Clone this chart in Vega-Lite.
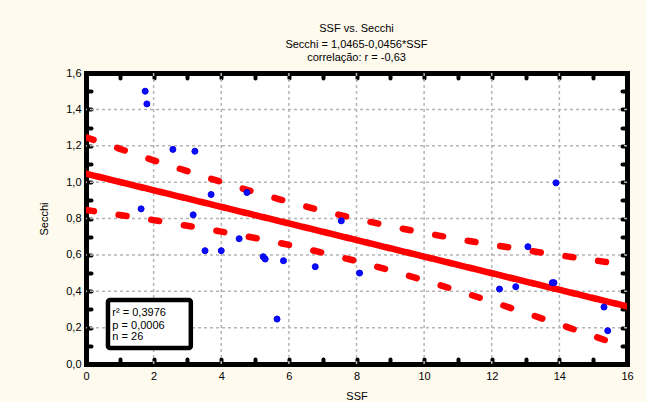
{
  "$schema": "https://vega.github.io/schema/vega-lite/v6.json",
  "width": 541,
  "height": 291,
  "autosize": {"type": "none"},
  "padding": {"left": 86, "top": 73, "right": 19, "bottom": 38},
  "background": "#fefaee",
  "config": {
    "font": "Liberation Sans",
    "view": {"stroke": null, "fill": "white"},
    "axis": {
      "domainColor": "black", "domainWidth": 5, "domainCap": "square",
      "tickColor": "black", "tickWidth": 4, "tickSize": -5, "tickCap": "round",
      "labelFontSize": 11, "labelColor": "black", "labelFlush": false, "labelOverlap": false, "labelBound": false,
      "titleFontSize": 11, "titleFontWeight": "normal", "titleColor": "black",
      "grid": false, "zindex": 1
    }
  },
  "title": {
    "text": "SSF vs. Secchi",
    "subtitle": ["Secchi = 1,0465-0,0456*SSF", "correlação: r = -0,63"],
    "fontSize": 11, "fontWeight": "normal", "color": "black",
    "subtitleFontSize": 11, "subtitleColor": "black", "subtitlePadding": 5, "subtitleLineHeight": 13,
    "offset": 4, "anchor": "middle", "font": "Liberation Sans", "subtitleFont": "Liberation Sans"
  },
  "resolve": {"axis": {"x": "independent", "y": "independent"}},
  "layer": [
    {
      "data": {"values": [{"g": 2}, {"g": 4}, {"g": 6}, {"g": 8}, {"g": 10}, {"g": 12}, {"g": 14}]},
      "mark": {"type": "rule", "color": "#b5b5b5", "strokeWidth": 1.5, "strokeDash": [3, 3]},
      "encoding": {
        "x": {"field": "g", "type": "quantitative", "scale": {"domain": [0, 16], "nice": false}, "axis": null}
      }
    },
    {
      "data": {"values": [{"g": 0.2}, {"g": 0.4}, {"g": 0.6}, {"g": 0.8}, {"g": 1.0}, {"g": 1.2}, {"g": 1.4}]},
      "mark": {"type": "rule", "color": "#b5b5b5", "strokeWidth": 1.5, "strokeDash": [3, 3]},
      "encoding": {
        "y": {"field": "g", "type": "quantitative", "scale": {"domain": [0, 1.6], "nice": false}, "axis": null}
      }
    },
    {
      "data": {"values": [
        {"s": "fit", "x": 0, "y": 1.0465}, {"s": "fit", "x": 16, "y": 0.3169},
        {"s": "upper", "x": 0, "y": 1.247}, {"s": "upper", "x": 1, "y": 1.183}, {"s": "upper", "x": 2, "y": 1.120},
        {"s": "upper", "x": 3, "y": 1.060}, {"s": "upper", "x": 4, "y": 1.001}, {"s": "upper", "x": 5, "y": 0.944},
        {"s": "upper", "x": 6, "y": 0.891}, {"s": "upper", "x": 7, "y": 0.842}, {"s": "upper", "x": 8, "y": 0.798},
        {"s": "upper", "x": 9, "y": 0.757}, {"s": "upper", "x": 10, "y": 0.721}, {"s": "upper", "x": 11, "y": 0.687},
        {"s": "upper", "x": 12, "y": 0.656}, {"s": "upper", "x": 13, "y": 0.626}, {"s": "upper", "x": 14, "y": 0.598},
        {"s": "upper", "x": 15, "y": 0.571}, {"s": "upper", "x": 16, "y": 0.544},
        {"s": "lower", "x": 0, "y": 0.847}, {"s": "lower", "x": 1, "y": 0.819}, {"s": "lower", "x": 2, "y": 0.791},
        {"s": "lower", "x": 3, "y": 0.760}, {"s": "lower", "x": 4, "y": 0.728}, {"s": "lower", "x": 5, "y": 0.693},
        {"s": "lower", "x": 6, "y": 0.655}, {"s": "lower", "x": 7, "y": 0.612}, {"s": "lower", "x": 8, "y": 0.566},
        {"s": "lower", "x": 9, "y": 0.515}, {"s": "lower", "x": 10, "y": 0.460}, {"s": "lower", "x": 11, "y": 0.403},
        {"s": "lower", "x": 12, "y": 0.343}, {"s": "lower", "x": 13, "y": 0.281}, {"s": "lower", "x": 14, "y": 0.218},
        {"s": "lower", "x": 15, "y": 0.154}, {"s": "lower", "x": 16, "y": 0.090}
      ]},
      "mark": {"type": "line", "color": "#ff0000", "strokeWidth": 6.5, "strokeCap": "round", "clip": true},
      "encoding": {
        "x": {"field": "x", "type": "quantitative", "scale": {"domain": [0, 16], "nice": false},
          "axis": {"orient": "bottom", "title": "SSF", "values": [0,1,2,3,4,5,6,7,8,9,10,11,12,13,14,15,16],
            "labelExpr": "datum.value % 2 == 0 ? datum.label : ''", "labelPadding": 11, "titlePadding": 9}},
        "y": {"field": "y", "type": "quantitative", "scale": {"domain": [0, 1.6], "nice": false},
          "axis": {"orient": "left", "title": "Secchi", "values": [0,0.1,0.2,0.3,0.4,0.5,0.6,0.7,0.8,0.9,1.0,1.1,1.2,1.3,1.4,1.5,1.6],
            "labelExpr": "round(datum.value*10) % 2 == 0 ? replace(format(datum.value, '.1f'), '.', ',') : ''", "labelPadding": 10, "titlePadding": 16}},
        "strokeDash": {"field": "s", "type": "nominal", "scale": {"domain": ["fit", "upper", "lower"], "range": [[1, 0], [8, 25], [8, 25]]}, "legend": null}
      }
    },
    {
      "data": {"values": [
        {"ssf": 1.75, "secchi": 1.50}, {"ssf": 1.80, "secchi": 1.43}, {"ssf": 2.57, "secchi": 1.18}, {"ssf": 3.22, "secchi": 1.17},
        {"ssf": 1.63, "secchi": 0.853}, {"ssf": 3.17, "secchi": 0.82}, {"ssf": 3.70, "secchi": 0.932}, {"ssf": 4.76, "secchi": 0.943},
        {"ssf": 7.55, "secchi": 0.787}, {"ssf": 4.53, "secchi": 0.689}, {"ssf": 3.52, "secchi": 0.623}, {"ssf": 4.00, "secchi": 0.623},
        {"ssf": 5.24, "secchi": 0.59}, {"ssf": 5.30, "secchi": 0.577}, {"ssf": 5.84, "secchi": 0.568}, {"ssf": 6.78, "secchi": 0.535},
        {"ssf": 8.09, "secchi": 0.50}, {"ssf": 5.65, "secchi": 0.247}, {"ssf": 12.23, "secchi": 0.412}, {"ssf": 12.71, "secchi": 0.425},
        {"ssf": 13.79, "secchi": 0.447}, {"ssf": 13.84, "secchi": 0.447}, {"ssf": 15.32, "secchi": 0.313}, {"ssf": 15.43, "secchi": 0.183},
        {"ssf": 13.90, "secchi": 0.996}, {"ssf": 13.07, "secchi": 0.645}
      ]},
      "mark": {"type": "point", "filled": true, "color": "#0a0aff", "size": 36, "opacity": 1, "stroke": "#0000ee", "strokeWidth": 1},
      "encoding": {
        "x": {"field": "ssf", "type": "quantitative", "scale": {"domain": [0, 16], "nice": false},
          "axis": {"orient": "top", "title": null, "labels": false, "values": [0,1,2,3,4,5,6,7,8,9,10,11,12,13,14,15,16]}},
        "y": {"field": "secchi", "type": "quantitative", "scale": {"domain": [0, 1.6], "nice": false},
          "axis": {"orient": "right", "title": null, "labels": false, "values": [0,0.1,0.2,0.3,0.4,0.5,0.6,0.7,0.8,0.9,1.0,1.1,1.2,1.3,1.4,1.5,1.6]}}
      }
    },
    {
      "data": {"values": [{"x1": 0.65, "x2": 3.1, "y1": 0.088, "y2": 0.352}]},
      "mark": {"type": "rect", "fill": "white", "stroke": "black", "strokeWidth": 4.5, "cornerRadius": 2},
      "encoding": {
        "x": {"field": "x1", "type": "quantitative", "scale": {"domain": [0, 16], "nice": false}, "axis": null},
        "x2": {"field": "x2"},
        "y": {"field": "y1", "type": "quantitative", "scale": {"domain": [0, 1.6], "nice": false}, "axis": null},
        "y2": {"field": "y2"}
      }
    },
    {
      "data": {"values": [
        {"x": 0.78, "y": 0.282, "t": "r² = 0,3976"},
        {"x": 0.78, "y": 0.209, "t": "p = 0,0006"},
        {"x": 0.78, "y": 0.147, "t": "n = 26"}
      ]},
      "mark": {"type": "text", "align": "left", "baseline": "middle", "fontSize": 11, "color": "black", "font": "Liberation Sans"},
      "encoding": {
        "x": {"field": "x", "type": "quantitative", "scale": {"domain": [0, 16], "nice": false}, "axis": null},
        "y": {"field": "y", "type": "quantitative", "scale": {"domain": [0, 1.6], "nice": false}, "axis": null},
        "text": {"field": "t"}
      }
    }
  ]
}
